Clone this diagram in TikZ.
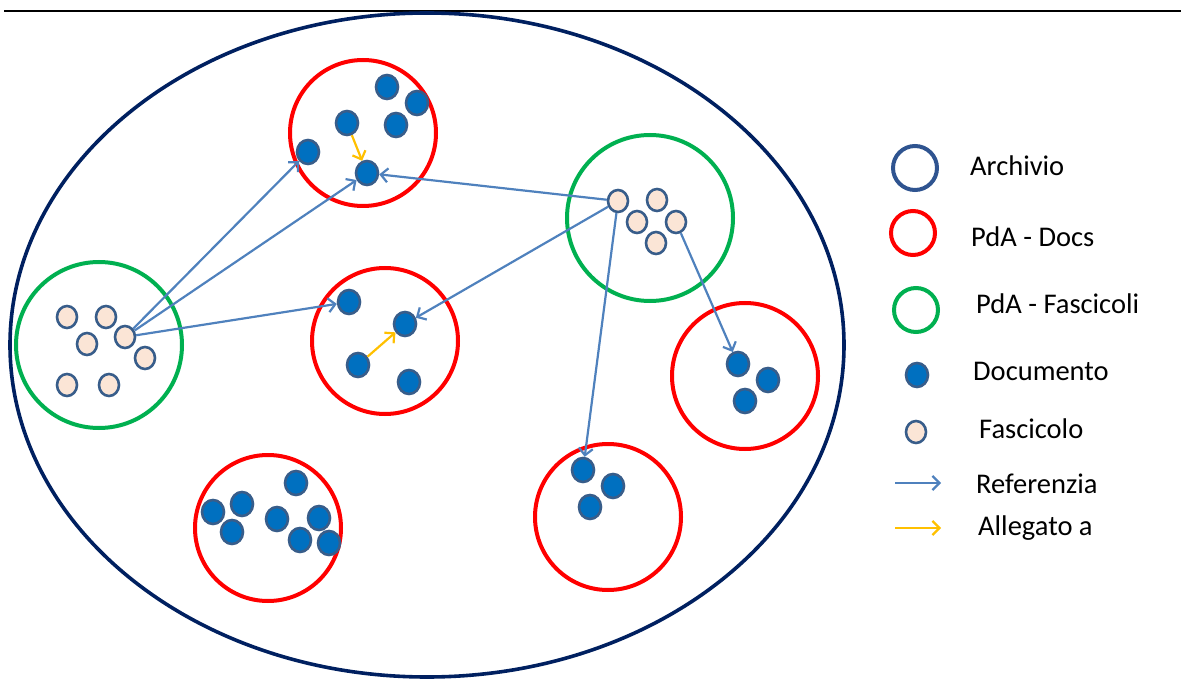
\documentclass[tikz,border=0pt]{standalone}
\usepackage{fontspec}
\setmainfont{Carlito}
\usetikzlibrary{shapes.geometric,arrows.meta}
\definecolor{navy}{HTML}{002060}
\definecolor{pdared}{HTML}{FF0000}
\definecolor{pdagreen}{HTML}{00B050}
\definecolor{docfill}{HTML}{0070C0}
\definecolor{dotborder}{HTML}{385D8A}
\definecolor{fasfill}{HTML}{FBE5D6}
\definecolor{refblue}{HTML}{4F81BD}
\definecolor{allyellow}{HTML}{FFC000}
\definecolor{legblue}{HTML}{2F5490}
\tikzset{
  docs/.style={draw=pdared,line width=4pt,circle,minimum size=146pt,inner sep=0pt},
  fasc/.style={draw=pdagreen,line width=4pt,circle,minimum size=166pt,inner sep=0pt},
  doc/.style={ellipse,draw=dotborder,fill=docfill,line width=2.6pt,minimum width=22pt,minimum height=24pt,inner sep=0pt},
  fas/.style={ellipse,draw=dotborder,fill=fasfill,line width=2.6pt,minimum width=20pt,minimum height=22pt,inner sep=0pt},
  ref/.style={draw=refblue,line width=2.2pt,-{Straight Barb[length=7pt,width=14pt]}},
  all/.style={draw=allyellow,line width=2.2pt,-{Straight Barb[length=7pt,width=14pt]}},
  legtext/.style={anchor=base west,inner sep=0pt,font=\fontsize{28.5}{34}\selectfont},
}
\begin{document}
\begin{tikzpicture}[x=1pt,y=-1pt]
\useasboundingbox (0,0) rectangle (1181,679);
% top rule
\coordinate (ruleL) at (4,11);
\coordinate (ruleR) at (1181,11);
\draw[line width=2.6pt,black] (ruleL) -- (ruleR);
% archive ellipse
\node[ellipse,draw=navy,line width=3.6pt,minimum width=834pt,minimum height=664pt,inner sep=0pt] (archivio) at (427,345) {};
% PdA circles
\node[docs] (rtop) at (363,133) {};
\node[docs] (rmid) at (385,341) {};
\node[docs] (rright) at (745,376) {};
\node[docs] (rbot) at (608,517) {};
\node[docs] (rbl) at (268,528) {};
\node[fasc] (gleft) at (99,345) {};
\node[fasc] (gright) at (650,218) {};
% documents top red
\node[doc] (t1) at (387,87) {};
\node[doc] (t2) at (417,103) {};
\node[doc] (t3) at (347,123) {};
\node[doc] (t4) at (396,125) {};
\node[doc] (t5) at (308,152) {};
\node[doc] (t6) at (367,173) {};
% documents middle red
\node[doc] (m1) at (349,302) {};
\node[doc] (m2) at (405,324) {};
\node[doc] (m3) at (358,365) {};
\node[doc] (m4) at (409,382) {};
% right red
\node[doc] (r1) at (738,364) {};
\node[doc] (r2) at (768,380) {};
\node[doc] (r3) at (745,401) {};
% bottom red
\node[doc] (b1) at (583,470) {};
\node[doc] (b2) at (613,486) {};
\node[doc] (b3) at (590,507) {};
% bottom-left red
\node[doc] (l1) at (213,512) {};
\node[doc] (l2) at (242,504) {};
\node[doc] (l3) at (232,532) {};
\node[doc] (l4) at (296,483) {};
\node[doc] (l5) at (277,519) {};
\node[doc] (l6) at (319,518) {};
\node[doc] (l7) at (300,540) {};
\node[doc] (l8) at (329,543) {};
% fascicoli left green
\node[fas] (f1) at (67,317) {};
\node[fas] (f2) at (106,317) {};
\node[fas] (f3) at (87,344) {};
\node[fas] (f4) at (125,337) {};
\node[fas] (f5) at (145,358) {};
\node[fas] (f6) at (67,385) {};
\node[fas] (f7) at (109,385) {};
% fascicoli right green
\node[fas] (g1) at (618,201) {};
\node[fas] (g2) at (657,200) {};
\node[fas] (g3) at (637,222) {};
\node[fas] (g4) at (676,222) {};
\node[fas] (g5) at (656,243) {};
% referenze
\draw[ref] (f4) -- (t5);
\draw[ref] (f4) -- (t6);
\draw[ref] (f4) -- (m1);
\draw[ref] (g1) -- (t6);
\draw[ref] (g1) -- (m2);
\draw[ref] (g1) -- (b1);
\draw[ref] (g4) -- (r1);
% allegati
\draw[all] (t3) -- (t6);
\draw[all] (m3) -- (m2);
% legend
\node[circle,draw=legblue,line width=4pt,minimum size=44pt,inner sep=0pt] (legA) at (915,168) {};
\node[circle,draw=pdared,line width=4pt,minimum size=44pt,inner sep=0pt] (legR) at (913,233) {};
\node[circle,draw=pdagreen,line width=4pt,minimum size=44pt,inner sep=0pt] (legG) at (916,310) {};
\node[doc] (legD) at (917,375) {};
\node[fas] (legF) at (916,432) {};
\coordinate (refS) at (895,483);
\coordinate (refE) at (941,483);
\draw[ref] (refS) -- (refE);
\coordinate (allS) at (895,528);
\coordinate (allE) at (941,528);
\draw[all] (allS) -- (allE);
\node[legtext] (tA) at (970,176) {Archivio};
\node[legtext] (tR) at (971,247) {PdA - Docs};
\node[legtext] (tG) at (976,313) {PdA - Fascicoli};
\node[legtext] (tD) at (973,380) {Documento};
\node[legtext] (tF) at (979,438) {Fascicolo};
\node[legtext] (tRef) at (976,493) {Referenzia};
\node[legtext] (tAll) at (978,535) {Allegato a};
\end{tikzpicture}
\end{document}
